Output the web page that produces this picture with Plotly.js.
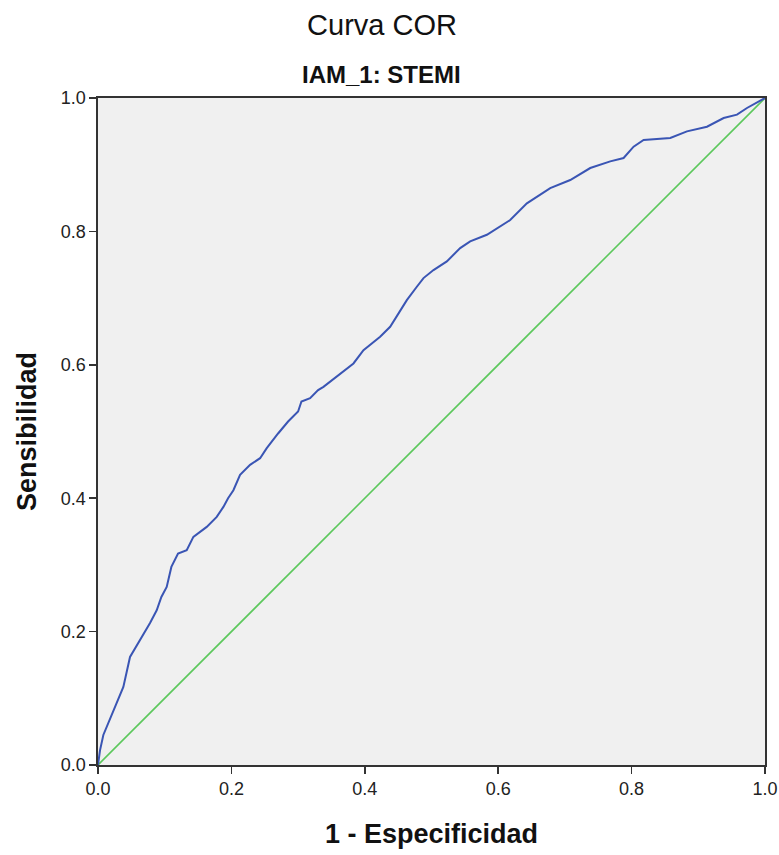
<!DOCTYPE html>
<html>
<head>
<meta charset="utf-8">
<script src="https://cdn.plot.ly/plotly-3.0.1.min.js"></script>
<style>html,body{margin:0;padding:0;background:#fff;}#chart{width:779px;height:855px;}</style>
</head>
<body>
<div id="chart"></div>
<script>
const fpr = [0, 0.003, 0.008, 0.013, 0.023, 0.038, 0.048, 0.063, 0.078, 0.088, 0.095, 0.103, 0.110, 0.120, 0.133, 0.143, 0.163, 0.178, 0.188, 0.195, 0.203, 0.213, 0.228, 0.243, 0.253, 0.270, 0.285, 0.300, 0.305, 0.318, 0.330, 0.338, 0.363, 0.383, 0.398, 0.423, 0.438, 0.453, 0.463, 0.478, 0.488, 0.503, 0.523, 0.543, 0.558, 0.583, 0.618, 0.643, 0.678, 0.708, 0.738, 0.768, 0.788, 0.803, 0.818, 0.858, 0.883, 0.913, 0.938, 0.958, 0.973, 1.0];
const tpr = [0, 0.022, 0.045, 0.057, 0.082, 0.117, 0.162, 0.187, 0.213, 0.232, 0.252, 0.267, 0.297, 0.317, 0.322, 0.342, 0.357, 0.372, 0.387, 0.400, 0.412, 0.435, 0.450, 0.460, 0.475, 0.497, 0.515, 0.530, 0.545, 0.550, 0.562, 0.567, 0.587, 0.602, 0.622, 0.642, 0.657, 0.682, 0.697, 0.717, 0.730, 0.742, 0.755, 0.775, 0.785, 0.795, 0.817, 0.842, 0.865, 0.877, 0.895, 0.905, 0.910, 0.927, 0.937, 0.940, 0.950, 0.957, 0.970, 0.975, 0.985, 1.0];
const refX = [0, 1];
const refY = [0, 1];
const tickVals = [0, 0.2, 0.4, 0.6, 0.8, 1.0];
const tickText = ["0.0", "0.2", "0.4", "0.6", "0.8", "1.0"];

const fontFam = "'Liberation Sans', Arial, sans-serif";

const traces = [
  {x: refX, y: refY, mode: 'lines', line: {color: '#5cc85c', width: 1.6}, hoverinfo: 'skip', showlegend: false},
  {x: fpr, y: tpr, mode: 'lines', line: {color: '#3a55b4', width: 2}, showlegend: false}
];

const axisCommon = {
  range: [0, 1], tickvals: tickVals, ticktext: tickText,
  showgrid: false, zeroline: false, showline: true, mirror: true,
  linecolor: '#333', linewidth: 1.6, ticks: 'outside', ticklen: 7, tickwidth: 1.6, tickcolor: '#333',
  tickfont: {family: fontFam, size: 18, color: '#222'}, fixedrange: true
};

const layout = {
  width: 779, height: 855,
  margin: {l: 98, r: 14, t: 98, b: 90},
  paper_bgcolor: '#ffffff', plot_bgcolor: '#f0f0f0',
  title: {text: 'Curva COR', font: {family: fontFam, size: 29, color: '#111'}, x: 382/779, xanchor: 'center', y: 1 - 25/855, yanchor: 'middle'},
  xaxis: Object.assign({}, axisCommon, {title: {text: '<b>1 - Especificidad</b>', font: {family: fontFam, size: 27, color: '#111'}, standoff: 26}}),
  yaxis: Object.assign({}, axisCommon, {title: {text: '<b>Sensibilidad</b>', font: {family: fontFam, size: 27, color: '#111'}, standoff: 16}}),
  annotations: [{
    text: '<b>IAM_1: STEMI</b>', xref: 'paper', yref: 'paper', x: (381 - 98) / 667, y: 1.0, yshift: 8,
    xanchor: 'center', yanchor: 'bottom', showarrow: false,
    font: {family: fontFam, size: 24, color: '#111'}
  }]
};

Plotly.newPlot('chart', traces, layout, {displayModeBar: false, staticPlot: true});
</script>
</body>
</html>
